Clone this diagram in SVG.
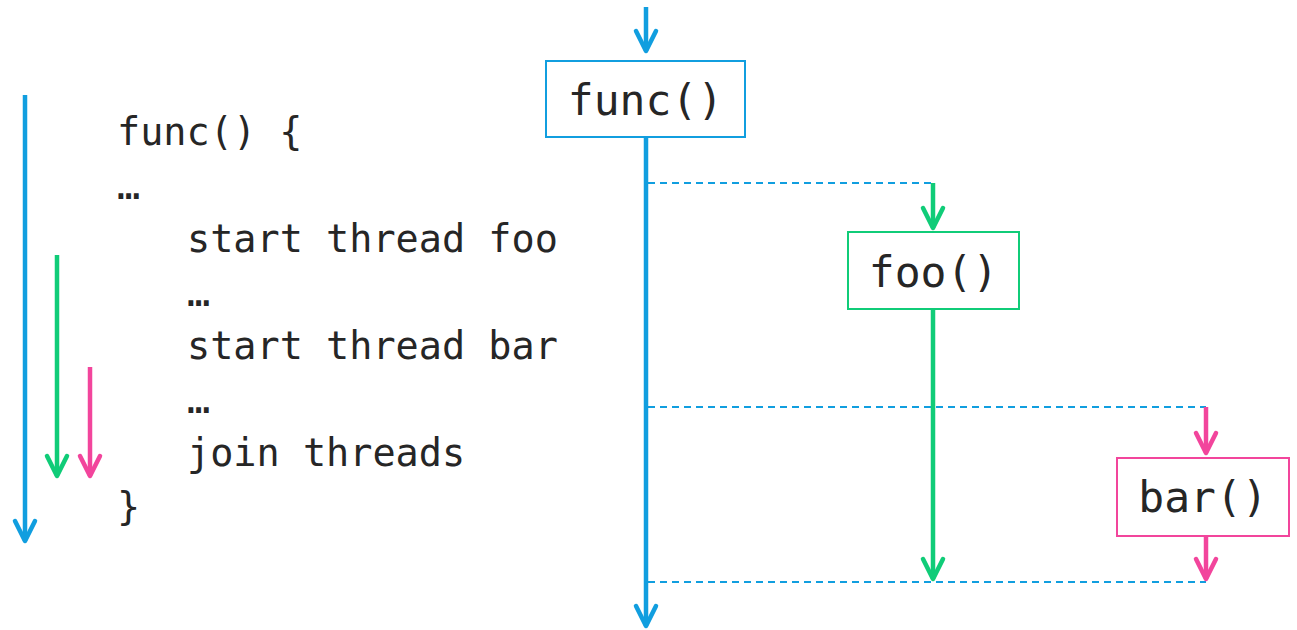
<svg xmlns="http://www.w3.org/2000/svg" width="1297" height="630" viewBox="0 0 1297 630">
<style>
.code{font-family:"DejaVu Sans Mono","Liberation Mono",monospace;font-size:38.5px;fill:#262626}
.lbl{font-family:"DejaVu Sans Mono","Liberation Mono",monospace;font-size:43px;fill:#262626;text-anchor:middle}
.b{stroke:#119EDF}.g{stroke:#10CC78}.p{stroke:#F2459C}
.ln{stroke-width:4.5;fill:none}
.dash{stroke:#119EDF;stroke-width:2;stroke-dasharray:7 5;fill:none}
.box{fill:#fff;stroke-width:2}
</style>
<defs>
<marker id="ab" markerUnits="userSpaceOnUse" viewBox="-24 -14 28 28" refX="0" refY="0" markerWidth="28" markerHeight="28" orient="auto" overflow="visible"><path d="M-20,-10 L0,0 L-20,10" fill="none" stroke="#119EDF" stroke-width="4.5" stroke-linecap="round" stroke-linejoin="round"/></marker>
<marker id="ag" markerUnits="userSpaceOnUse" viewBox="-24 -14 28 28" refX="0" refY="0" markerWidth="28" markerHeight="28" orient="auto" overflow="visible"><path d="M-20,-10 L0,0 L-20,10" fill="none" stroke="#10CC78" stroke-width="4.5" stroke-linecap="round" stroke-linejoin="round"/></marker>
<marker id="ap" markerUnits="userSpaceOnUse" viewBox="-24 -14 28 28" refX="0" refY="0" markerWidth="28" markerHeight="28" orient="auto" overflow="visible"><path d="M-20,-10 L0,0 L-20,10" fill="none" stroke="#F2459C" stroke-width="4.5" stroke-linecap="round" stroke-linejoin="round"/></marker>
</defs>
<g id="code">
<text class="code" x="117" y="145">func() {</text>
<text class="code" x="117" y="198.5">…</text>
<text class="code" x="187" y="252">start thread foo</text>
<text class="code" x="187" y="305.5">…</text>
<text class="code" x="187" y="359">start thread bar</text>
<text class="code" x="187" y="412.5">…</text>
<text class="code" x="187" y="466">join threads</text>
<text class="code" x="117" y="519.5">}</text>
</g>
<g id="connectors">
<path class="ln b" d="M25,95 V541" marker-end="url(#ab)"/>
<path class="ln g" d="M57,255 V476" marker-end="url(#ag)"/>
<path class="ln p" d="M90,367 V476" marker-end="url(#ap)"/>
<path class="ln b" d="M646,7 V51" marker-end="url(#ab)"/>
<path class="ln b" d="M646,135 V626" marker-end="url(#ab)"/>
<path class="dash" d="M648,183 H933"/>
<path class="dash" d="M648,407 H1206"/>
<path class="dash" d="M648,582 H1206"/>
<path class="ln g" d="M933,183 V228" marker-end="url(#ag)"/>
<path class="ln g" d="M933,309 V579" marker-end="url(#ag)"/>
<path class="ln p" d="M1206,407 V453" marker-end="url(#ap)"/>
<path class="ln p" d="M1206,536 V579" marker-end="url(#ap)"/>
</g>
<g id="node-func">
<rect class="box b" x="546" y="61" width="199" height="76"/>
<text class="lbl" x="645.5" y="115">func()</text>
</g>
<g id="node-foo">
<rect class="box g" x="848" y="232" width="171" height="77"/>
<text class="lbl" x="933.5" y="287">foo()</text>
</g>
<g id="node-bar">
<rect class="box p" x="1117" y="458" width="172" height="78"/>
<text class="lbl" x="1203" y="512">bar()</text>
</g>
</svg>
